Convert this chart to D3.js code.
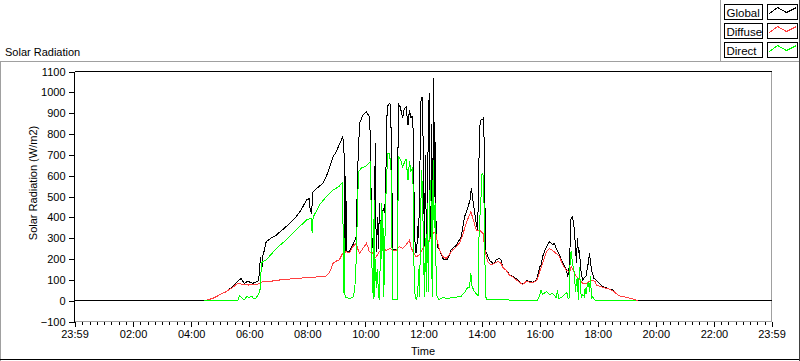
<!DOCTYPE html>
<html><head><meta charset="utf-8">
<script src="https://cdn.jsdelivr.net/npm/d3@7"></script>
<style>
html,body{margin:0;padding:0;background:#fff;}
svg{display:block;font-family:"Liberation Sans",Arial,sans-serif;}
</style></head><body>
<svg id="c" width="800" height="361"></svg>
<script>
// ---- data (time in minutes since 00:00, value in W/m2) ----
const seriesNames = ["Global", "Diffuse", "Direct"];
const seriesColors = ["#000000", "#ff4040", "#00ff00"];
const xTickMinutes = [-1, 120, 240, 360, 480, 600, 720, 840, 960, 1080, 1200, 1320, 1439];
const xTickLabels = ["23:59", "02:00", "04:00", "06:00", "08:00", "10:00", "12:00", "14:00", "16:00", "18:00", "20:00", "22:00", "23:59"];
const yTickValues = [-100, 0, 100, 200, 300, 400, 500, 600, 700, 800, 900, 1000, 1100];

const globalData = [[-1,0],[267,0],[285,11],[298,27],[312,43],[326,67],[336,94],[343,106],[350,83],[357,93],[367,83],[374,90],[379,95],[381,131],[383,211],[386,147],[388,214],[391,240],[395,283],[405,300],[416,315],[426,335],[436,355],[447,380],[457,403],[464,425],[471,451],[478,483],[484,490],[486,430],[489,420],[491,520],[500,540],[512,563],[519,595],[526,640],[533,690],[540,715],[546,750],[553,785],[555,760],[556,700],[557,250],[558,600],[559,240],[560,480],[561,235],[567,235],[574,267],[581,307],[584,627],[588,851],[595,891],[602,907],[608,883],[610,800],[611,611],[614,259],[617,250],[619,560],[621,755],[622,300],[623,235],[625,400],[627,250],[629,467],[631,300],[633,440],[636,430],[638,440],[640,420],[643,675],[645,931],[650,947],[652,940],[654,700],[655,516],[657,243],[663,245],[666,250],[668,947],[672,930],[677,876],[680,920],[684,930],[688,843],[691,915],[694,880],[698,885],[701,435],[703,230],[706,230],[708,360],[710,300],[712,560],[715,972],[718,975],[720,620],[722,259],[724,700],[726,280],[728,320],[730,890],[732,995],[733,400],[735,300],[737,850],[739,330],[741,1068],[743,500],[744,760],[746,355],[749,259],[753,245],[760,203],[763,195],[770,200],[777,243],[788,267],[798,307],[805,403],[812,451],[816,480],[819,540],[822,483],[829,371],[832,339],[834,600],[836,835],[839,867],[842,870],[844,876],[846,700],[848,243],[853,211],[857,190],[860,187],[863,179],[867,180],[870,195],[877,203],[880,195],[884,163],[891,147],[898,123],[905,115],[912,105],[918,91],[925,80],[932,96],[939,92],[946,88],[953,99],[956,120],[960,163],[963,170],[966,211],[974,259],[980,283],[984,275],[987,270],[991,275],[994,250],[997,240],[1001,219],[1008,179],[1015,147],[1018,115],[1022,179],[1024,387],[1027,403],[1030,380],[1032,323],[1034,260],[1036,179],[1038,300],[1040,230],[1042,243],[1045,150],[1047,120],[1049,99],[1052,110],[1056,120],[1060,175],[1063,227],[1066,170],[1068,140],[1072,107],[1076,100],[1084,83],[1090,67],[1097,64],[1104,55],[1111,51],[1118,35],[1125,23],[1132,20],[1139,16],[1146,12],[1152,9],[1163,0],[1439,0]];

const diffuseData = [[267,0],[285,11],[298,27],[312,43],[326,64],[336,83],[345,79],[357,75],[367,76],[378,80],[388,91],[395,90],[422,99],[457,107],[491,112],[519,118],[526,135],[533,179],[540,190],[546,195],[553,227],[560,235],[567,230],[574,259],[581,275],[584,250],[588,227],[595,251],[602,275],[605,260],[608,235],[615,230],[619,203],[622,210],[629,235],[636,259],[643,240],[650,251],[657,243],[663,240],[670,260],[677,250],[684,267],[691,291],[694,260],[698,235],[705,211],[712,220],[719,251],[726,270],[732,291],[739,323],[745,330],[749,280],[753,243],[760,211],[767,203],[773,220],[780,243],[788,259],[795,280],[801,315],[808,371],[815,411],[818,427],[822,395],[829,339],[836,339],[843,323],[846,260],[849,219],[853,187],[860,171],[867,180],[874,187],[880,180],[884,160],[891,145],[898,121],[905,113],[918,88],[925,78],[932,92],[946,86],[953,96],[956,107],[960,140],[966,179],[974,235],[980,251],[987,240],[994,227],[1001,211],[1008,171],[1015,147],[1022,139],[1025,163],[1028,155],[1032,130],[1036,115],[1042,105],[1049,83],[1056,83],[1063,92],[1070,99],[1075,90],[1077,75],[1084,70],[1090,64],[1097,60],[1104,55],[1111,48],[1118,35],[1125,23],[1139,16],[1150,10],[1163,0]];

const directData = [[267,0],[336,0],[340,25],[345,12],[350,5],[355,20],[360,15],[365,22],[370,8],[375,15],[380,35],[383,60],[385,180],[390,190],[395,195],[416,251],[436,291],[457,339],[478,387],[488,395],[490,323],[492,400],[505,459],[519,499],[533,531],[540,540],[546,550],[553,568],[555,35],[556,300],[557,30],[560,15],[567,11],[574,15],[578,51],[581,195],[584,483],[586,619],[591,636],[602,647],[610,667],[611,600],[613,211],[615,51],[617,10],[618,483],[619,20],[621,200],[623,60],[625,150],[627,20],[629,5],[633,467],[634,200],[636,430],[638,20],[640,250],[642,480],[646,708],[650,705],[653,627],[655,250],[657,5],[666,5],[668,691],[672,680],[677,643],[680,660],[684,680],[688,579],[691,670],[694,620],[698,640],[700,200],[702,40],[705,5],[708,30],[710,150],[712,20],[714,387],[716,627],[718,520],[720,250],[722,20],[724,300],[726,40],[728,470],[730,40],[732,380],[734,580],[736,450],[738,20],[740,675],[742,350],[744,470],[746,147],[748,20],[752,5],[760,15],[770,10],[780,15],[790,18],[798,22],[805,40],[810,60],[815,65],[818,131],[820,70],[825,45],[830,30],[833,25],[835,355],[838,450],[841,611],[844,600],[846,350],[848,30],[850,5],[860,5],[900,3],[956,3],[960,27],[963,51],[966,30],[974,43],[980,30],[987,35],[994,15],[997,51],[999,10],[1005,15],[1010,25],[1016,40],[1019,10],[1022,15],[1023,227],[1025,235],[1028,180],[1032,130],[1034,40],[1036,90],[1038,110],[1040,5],[1041,80],[1042,160],[1044,80],[1046,15],[1049,30],[1052,20],[1054,60],[1056,30],[1058,70],[1061,91],[1063,40],[1065,120],[1067,10],[1070,20],[1073,5],[1076,2],[1083,0],[1160,0]];

// ---- drawing ----
const svg = d3.select("#c");
const FONT = '"Liberation Sans", Arial, sans-serif';
const L = 74.5, R = 771.5, T = 71.5, B = 321.5;
const x = d3.scaleLinear().domain([-1, 1439]).range([L, R]);
const y = d3.scaleLinear().domain([-100, 1100]).range([B, T]);

// outer frame
const frame = svg.append("g").attr("shape-rendering", "crispEdges");
frame.append("line").attr("x1", 0).attr("x2", 800).attr("y1", 61.5).attr("y2", 61.5).attr("stroke", "#a0a0a0");
frame.append("line").attr("x1", 0.5).attr("x2", 0.5).attr("y1", 61.5).attr("y2", 361).attr("stroke", "#a0a0a0");
frame.append("line").attr("x1", 720.5).attr("x2", 720.5).attr("y1", 0).attr("y2", 61.5).attr("stroke", "#a0a0a0");
frame.append("line").attr("x1", 0).attr("x2", 800).attr("y1", 359.5).attr("y2", 359.5).attr("stroke", "#000");
frame.append("line").attr("x1", 799.5).attr("x2", 799.5).attr("y1", 0).attr("y2", 361).attr("stroke", "#404040");

// title
svg.append("text").attr("x", 5).attr("y", 56).attr("font-family", FONT).attr("font-size", 11).text("Solar Radiation");

// plot borders
const pb = svg.append("g").attr("shape-rendering", "crispEdges");
pb.append("line").attr("x1", R).attr("x2", R).attr("y1", T).attr("y2", B).attr("stroke", "#a0a0a0");
pb.append("line").attr("x1", L).attr("x2", R).attr("y1", B).attr("y2", B).attr("stroke", "#a0a0a0");
pb.append("line").attr("x1", L).attr("x2", R).attr("y1", T).attr("y2", T).attr("stroke", "#000");
pb.append("line").attr("x1", L).attr("x2", L).attr("y1", T).attr("y2", B).attr("stroke", "#000");

// y axis
const yAxis = svg.append("g").attr("transform", `translate(${L},0)`)
  .call(d3.axisLeft(y).tickValues(yTickValues).tickSize(6).tickPadding(3).tickFormat(d3.format("d")));
yAxis.select(".domain").remove();
yAxis.attr("font-family", FONT).attr("font-size", 11).attr("shape-rendering", "crispEdges");
yAxis.selectAll("text").attr("fill", "#000");

// x axis minor ticks
const minorTicks = d3.range(15, 1439, 15).filter(m => m % 120 !== 0);
const xMinor = svg.append("g").attr("transform", `translate(0,${B})`)
  .call(d3.axisBottom(x).tickValues(minorTicks).tickSize(3).tickFormat(""));
xMinor.select(".domain").remove();
xMinor.attr("shape-rendering", "crispEdges");

// x axis major ticks
const xAxis = svg.append("g").attr("transform", `translate(0,${B})`)
  .call(d3.axisBottom(x).tickValues(xTickMinutes).tickSize(5).tickPadding(4)
    .tickFormat((d, i) => xTickLabels[i]));
xAxis.select(".domain").remove();
xAxis.attr("font-family", FONT).attr("font-size", 11).attr("shape-rendering", "crispEdges");
xAxis.selectAll("text").attr("fill", "#000");

// axis titles
svg.append("text").attr("x", (L + R) / 2).attr("y", 355).attr("text-anchor", "middle")
  .attr("font-family", FONT).attr("font-size", 11).text("Time");
svg.append("text").attr("transform", "translate(37,183) rotate(-90)").attr("text-anchor", "middle")
  .attr("font-family", FONT).attr("font-size", 11).text("Solar Radiation (W/m2)");

// series
const line = d3.line().x(d => x(d[0])).y(d => y(d[1]));
const plot = svg.append("g").attr("shape-rendering", "crispEdges");
[globalData, diffuseData, directData].forEach((data, i) => {
  plot.append("path").datum(data).attr("d", line)
    .attr("fill", "none").attr("stroke", seriesColors[i]).attr("stroke-width", 1)
    .attr("stroke-linejoin", "miter");
});

// legend
const lg = svg.append("g");
seriesNames.forEach((name, i) => {
  const y0 = 4.5 + i * 19;
  lg.append("rect").attr("x", 724.5).attr("y", y0).attr("width", 38).attr("height", 15)
    .attr("fill", "#fff").attr("stroke", "#000").attr("shape-rendering", "crispEdges");
  lg.append("text").attr("x", 726.5).attr("y", y0 + 12).attr("font-family", FONT).attr("font-size", 11.5).text(name);
  lg.append("rect").attr("x", 767.5).attr("y", y0).attr("width", 30).attr("height", 15)
    .attr("fill", "#fff").attr("stroke", "#000").attr("shape-rendering", "crispEdges");
  lg.append("path").attr("d", `M${769.5},${y0 + 9} L${777.5},${y0 + 3} L${786.5},${y0 + 8} L${796.5},${y0 + 3}`)
    .attr("fill", "none").attr("stroke", seriesColors[i]).attr("stroke-width", 1)
    .attr("shape-rendering", "crispEdges");
});
</script>
</body></html>
